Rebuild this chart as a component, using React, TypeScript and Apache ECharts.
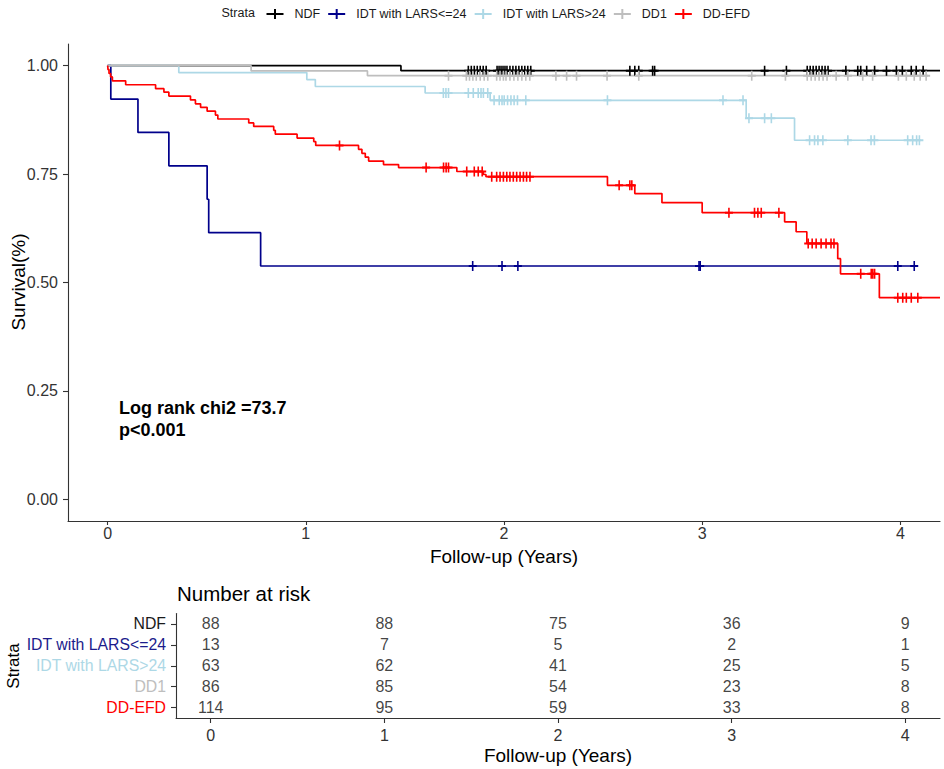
import React, { useEffect, useRef } from "react";
import * as echarts from "echarts";

const strata = ["NDF", "IDT with LARS<=24", "IDT with LARS>24", "DD1", "DD-EFD"];
const colors = ["#000000", "#00008B", "#ADD8E6", "#BEBEBE", "#FF0000"];
const labelColors = ["#1a1a1a", "#1c1c8c", "#ADD8E6", "#BEBEBE", "#FF0000"];

const xTicks = [0, 1, 2, 3, 4];
const yTicks = [0, 0.25, 0.5, 0.75, 1];

// NDF
const ndfTimes = [0, 1.48, 4.2];
const ndfSurv = [1, 0.9886, 0.9886];
const ndfCensor = [1.82, 1.835, 1.85, 1.865, 1.88, 1.895, 1.91, 1.965, 1.975, 1.985, 1.995, 2.005, 2.015, 2.03, 2.045, 2.06, 2.075, 2.09, 2.105, 2.12, 2.135, 2.635, 2.66, 2.68, 2.75, 2.76, 3.315, 3.425, 3.53, 3.545, 3.56, 3.575, 3.59, 3.605, 3.62, 3.635, 3.725, 3.785, 3.8, 3.83, 3.87, 3.93, 3.98, 4.01, 4.055, 4.08, 4.115];

// IDT with LARS<=24
const idtLowTimes = [0, 0.016, 0.153, 0.309, 0.502, 0.51, 0.772, 4.08];
const idtLowSurv = [1, 0.923, 0.846, 0.769, 0.692, 0.615, 0.538, 0.538];
const idtLowCensor = [1.842, 1.99, 2.07, 2.984, 2.99, 3.987, 4.07];

// IDT with LARS>24
const idtHighTimes = [0, 0.359, 1.005, 1.048, 1.602, 1.93, 3.222, 3.466, 4.096];
const idtHighSurv = [1, 0.984, 0.968, 0.952, 0.937, 0.92, 0.879, 0.828, 0.828];
const idtHighCensor = [1.694, 1.707, 1.72, 1.82, 1.845, 1.87, 1.884, 1.896, 1.918, 1.95, 1.976, 1.99, 2.001, 2.018, 2.035, 2.051, 2.068, 2.11, 2.522, 3.105, 3.206, 3.236, 3.315, 3.349, 3.542, 3.567, 3.584, 3.609, 3.735, 3.852, 3.869, 4.037, 4.062, 4.082, 4.096];

// DD1
const dd1Times = [0, 0.724, 1.311, 4.14];
const dd1Surv = [1, 0.988, 0.977, 0.977];
const dd1Censor = [1.72, 1.81, 1.826, 1.843, 1.86, 1.88, 1.9, 1.918, 1.963, 1.98, 1.997, 2.01, 2.03, 2.05, 2.07, 2.09, 2.11, 2.13, 2.262, 2.316, 2.366, 2.52, 2.68, 3.25, 3.42, 3.53, 3.55, 3.57, 3.59, 3.61, 3.63, 3.676, 3.735, 3.81, 3.86, 3.99, 4.03, 4.07, 4.1, 4.13];

// DD-EFD
const efdTimes = [0, 0.002, 0.007, 0.015, 0.024, 0.091, 0.242, 0.284, 0.309, 0.418, 0.443, 0.469, 0.502, 0.544, 0.556, 0.712, 0.737, 0.838, 0.846, 0.956, 1.04, 1.05, 1.266, 1.283, 1.3, 1.317, 1.392, 1.468, 1.762, 1.896, 1.909, 2.522, 2.66, 2.797, 3.0, 3.416, 3.474, 3.528, 3.684, 3.698, 3.894, 4.2];
const efdSurv = [1, 0.991, 0.982, 0.974, 0.965, 0.956, 0.947, 0.939, 0.93, 0.921, 0.912, 0.904, 0.895, 0.886, 0.877, 0.868, 0.86, 0.851, 0.842, 0.833, 0.825, 0.816, 0.807, 0.798, 0.789, 0.78, 0.772, 0.765, 0.756, 0.749, 0.744, 0.724, 0.705, 0.684, 0.661, 0.64, 0.617, 0.59, 0.555, 0.52, 0.465, 0.465];
const efdCensor = [1.17, 1.607, 1.695, 1.708, 1.72, 1.812, 1.85, 1.87, 1.89, 1.938, 1.963, 1.98, 1.997, 2.014, 2.03, 2.047, 2.064, 2.081, 2.098, 2.114, 2.131, 2.581, 2.635, 2.645, 3.135, 3.264, 3.281, 3.298, 3.387, 3.535, 3.555, 3.575, 3.6, 3.625, 3.65, 3.665, 3.8, 3.853, 3.861, 3.87, 3.987, 4.012, 4.03, 4.055, 4.088];

// Number at risk
const riskTimes = [0, 1, 2, 3, 4];
const riskNDF = [88, 88, 75, 36, 9];
const riskIdtLow = [13, 7, 5, 2, 1];
const riskIdtHigh = [63, 62, 41, 25, 5];
const riskDD1 = [86, 85, 54, 23, 8];
const riskEFD = [114, 95, 59, 33, 8];

const FONT = "Liberation Sans, Arial, Helvetica, sans-serif";
const PLUS = "path://M4,0H6V4H10V6H6V10H4V6H0V4H4Z";
const LEGEND_ICON = "path://M0,4H17V6H0Z M7.5,0H9.5V10H7.5Z";

function survAt(times: number[], surv: number[], t: number) {
  let s = surv[0];
  for (let i = 0; i < times.length; i++) if (times[i] <= t) s = surv[i];
  return s;
}

export default function App() {
  const ref = useRef<HTMLDivElement>(null);
  useEffect(() => {
    if (!ref.current) return;
    const chart = echarts.init(ref.current, undefined, { renderer: "svg" });
    const curves = [
      { times: ndfTimes, surv: ndfSurv, censor: ndfCensor },
      { times: idtLowTimes, surv: idtLowSurv, censor: idtLowCensor },
      { times: idtHighTimes, surv: idtHighSurv, censor: idtHighCensor },
      { times: dd1Times, surv: dd1Surv, censor: dd1Censor },
      { times: efdTimes, surv: efdSurv, censor: efdCensor },
    ];
    const riskRows = [riskNDF, riskIdtLow, riskIdtHigh, riskDD1, riskEFD];

    const lineSeries = curves.map((c, i) => ({
      type: "line",
      name: strata[i],
      xAxisIndex: 0,
      yAxisIndex: 0,
      step: "end",
      symbol: "none",
      showSymbol: false,
      silent: true,
      data: c.times.map((t, j) => [t, c.surv[j]]),
      lineStyle: { color: colors[i], width: 1.7 },
      itemStyle: { color: colors[i] },
      z: 2,
    }));
    const censorSeries = curves.map((c, i) => ({
      type: "scatter",
      name: strata[i] + " censored",
      xAxisIndex: 0,
      yAxisIndex: 0,
      symbol: PLUS,
      symbolSize: [8, 10],
      silent: true,
      data: c.censor.map((t) => [t, survAt(c.times, c.surv, t)]),
      itemStyle: { color: colors[i], opacity: 1 },
      z: 3,
    }));
    const riskSeries = {
      type: "scatter",
      name: "risk",
      xAxisIndex: 1,
      yAxisIndex: 1,
      symbolSize: 1,
      silent: true,
      itemStyle: { color: "transparent" },
      data: riskRows.flatMap((row, i) => row.map((v, j) => [riskTimes[j], strata[i], v])),
      label: {
        show: true,
        position: "inside",
        formatter: (p: any) => String(p.value[2]),
        fontSize: 16,
        color: "#111",
        fontFamily: FONT,
      },
    };

    const axisLine = { show: true, onZero: false, lineStyle: { color: "#333", width: 1.1 } };
    const tickStyle = { color: "#333", width: 1.1 };

    chart.setOption({
      animation: false,
      backgroundColor: "#ffffff",
      textStyle: { fontFamily: FONT },
      legend: {
        left: 266.5,
        top: 7.5,
        padding: 0,
        itemWidth: 17,
        itemHeight: 10,
        itemGap: 8,
        icon: LEGEND_ICON,
        data: strata,
        selectedMode: false,
        textStyle: { fontSize: 12.5, color: "#1a1a1a", fontFamily: FONT, padding: [0, 0, 0, 6] },
      },
      grid: [
        { left: 68, top: 44, width: 872, height: 477, containLabel: false, outerBoundsMode: "none" },
        { left: 176, top: 613.5, width: 764, height: 104.5, containLabel: false, outerBoundsMode: "none" },
      ],
      xAxis: [
        {
          type: "value",
          gridIndex: 0,
          min: -0.2,
          max: 4.2,
          axisLine,
          axisTick: { show: true, length: 4, customValues: xTicks, lineStyle: tickStyle },
          axisLabel: { customValues: xTicks, fontSize: 16, color: "#333", margin: 4 },
          splitLine: { show: false },
          name: "Follow-up (Years)",
          nameLocation: "middle",
          nameGap: 26,
          nameTextStyle: { fontSize: 19, color: "#000", fontFamily: FONT },
        },
        {
          type: "value",
          gridIndex: 1,
          min: -0.2,
          max: 4.2,
          axisLine,
          axisTick: { show: true, length: 5, customValues: xTicks, lineStyle: tickStyle },
          axisLabel: { customValues: xTicks, fontSize: 16, color: "#333", margin: 9 },
          splitLine: { show: false },
          name: "Follow-up (Years)",
          nameLocation: "middle",
          nameGap: 28,
          nameTextStyle: { fontSize: 19, color: "#000", fontFamily: FONT },
        },
      ],
      yAxis: [
        {
          type: "value",
          gridIndex: 0,
          min: -0.05,
          max: 1.05,
          axisLine,
          axisTick: { show: true, length: 5, customValues: yTicks, lineStyle: tickStyle },
          axisLabel: {
            customValues: yTicks,
            fontSize: 16,
            color: "#333",
            margin: 10,
            formatter: (v: number) => v.toFixed(2),
          },
          splitLine: { show: false },
        },
        {
          type: "category",
          gridIndex: 1,
          data: strata,
          inverse: true,
          axisLine,
          axisTick: { show: true, length: 5, alignWithLabel: true, lineStyle: tickStyle },
          axisLabel: {
            fontSize: 15.8,
            margin: 10,
            color: (_v: any, i: number) => labelColors[i],
          },
          splitLine: { show: false },
        },
      ],
      graphic: [
        {
          type: "text",
          x: 221.5,
          y: 12.7,
          silent: true,
          style: { text: "Strata", fontSize: 12.5, fontFamily: FONT, fill: "#1a1a1a", verticalAlign: "middle" },
        },
        {
          type: "text",
          x: 18,
          y: 282,
          rotation: Math.PI / 2,
          silent: true,
          style: {
            text: "Survival(%)",
            fontSize: 19,
            fontFamily: FONT,
            fill: "#000",
            align: "center",
            verticalAlign: "middle",
          },
        },
        {
          type: "text",
          x: 13,
          y: 666,
          rotation: Math.PI / 2,
          silent: true,
          style: {
            text: "Strata",
            fontSize: 17,
            fontFamily: FONT,
            fill: "#000",
            align: "center",
            verticalAlign: "middle",
          },
        },
        {
          type: "text",
          x: 119,
          y: 397,
          silent: true,
          style: {
            text: "Log rank chi2 =73.7\np<0.001",
            fontSize: 18,
            fontWeight: "bold",
            lineHeight: 22,
            fontFamily: FONT,
            fill: "#000",
            verticalAlign: "top",
          },
        },
        {
          type: "text",
          x: 177,
          y: 593,
          silent: true,
          style: { text: "Number at risk", fontSize: 20.5, fontFamily: FONT, fill: "#000", verticalAlign: "middle" },
        },
      ],
      series: [...lineSeries, ...censorSeries, riskSeries],
    });
    return () => chart.dispose();
  }, []);
  return (
    <div
      ref={ref}
      style={{ position: "fixed", left: 0, top: 0, width: 944, height: 769, background: "#fff" }}
    />
  );
}
